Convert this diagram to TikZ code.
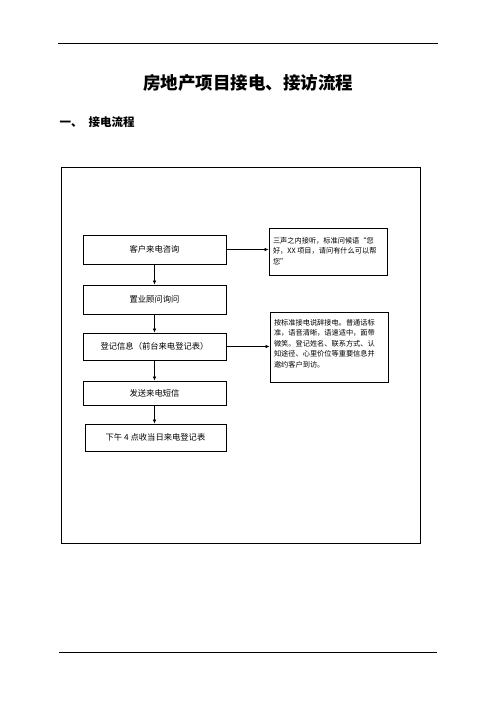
\documentclass[tikz,border=0pt]{standalone}
\usepackage{fontspec}
\newfontfamily\cjk{Noto Sans CJK SC}
\usetikzlibrary{arrows.meta}
\begin{document}
\begin{tikzpicture}[x=1pt,y=-1pt,
  stepbox/.style={draw,line width=0.8pt,inner sep=0pt,minimum width=143pt,font=\cjk\fontsize{8.3}{10}\selectfont},
  notebox/.style={draw,line width=0.8pt,inner sep=0pt,minimum width=118pt,font=\cjk\fontsize{7.2}{10.6}\selectfont},
  arr/.style={line width=0.6pt,-{Latex[length=4pt,width=3.5pt]}}]
\useasboundingbox (0,0) rectangle (496,702);
\fill[white] (0,0) rectangle (496,702);
% rules
\coordinate (tl) at (58,43); \coordinate (tr) at (438,43);
\draw[line width=0.8pt] (tl) -- (tr);
\coordinate (bl) at (59,652); \coordinate (br) at (437,652);
\draw[line width=0.8pt] (bl) -- (br);
% title
\node[font=\cjk\bfseries\fontsize{17.5}{20}\selectfont] (title) at (248,83) {房地产项目接电、接访流程};
\node[font=\cjk\bfseries\fontsize{11.5}{13}\selectfont,anchor=west,inner sep=0pt] (sec) at (59.5,122) {一、\hspace{6pt}接电流程};
% frame
\draw[line width=0.8pt] (61,167) rectangle (420.5,543);
% steps
\node[stepbox,minimum height=29pt] (b1) at (154.5,249.5) {客户来电咨询};
\node[stepbox,minimum height=29pt] (b2) at (154.5,299.5) {置业顾问询问};
\node[stepbox,minimum height=27pt] (b3) at (154.5,346.5) {登记信息（前台来电登记表）};
\node[stepbox,minimum height=24pt] (b4) at (154.5,393) {发送来电短信};
\node[stepbox,minimum height=27pt,minimum width=141pt] (b5) at (155.5,437.5) {下午 4 点收当日来电登记表};
% notes
\node[notebox,minimum height=47pt] (r1) at (328,251.5) {\begin{minipage}[c][47pt][t]{110pt}\vspace{9pt}三声之内接听，标准问候语“您\\好，XX 项目，请问有什么可以帮\\您”\end{minipage}};
\node[notebox,minimum height=70pt] (r2) at (329,347) {\begin{minipage}[c][70pt][t]{110pt}\vspace{7pt}按标准接电说辞接电。普通话标\\准，语音清晰，语速适中，面带\\微笑。登记姓名、联系方式、认\\知途径、心里价位等重要信息并\\邀约客户到访。\end{minipage}};
% arrows
\draw[arr] (b1) -- (b2);
\draw[arr] (b2) -- (b3);
\draw[arr] (b3) -- (b4);
\draw[arr] (b4) -- (b4 |- b5.north);
\draw[arr] (b1.east) -- (b1.east -| r1.west);
\draw[arr] (b3.east) -- (b3.east -| r2.west);
\end{tikzpicture}
\end{document}
